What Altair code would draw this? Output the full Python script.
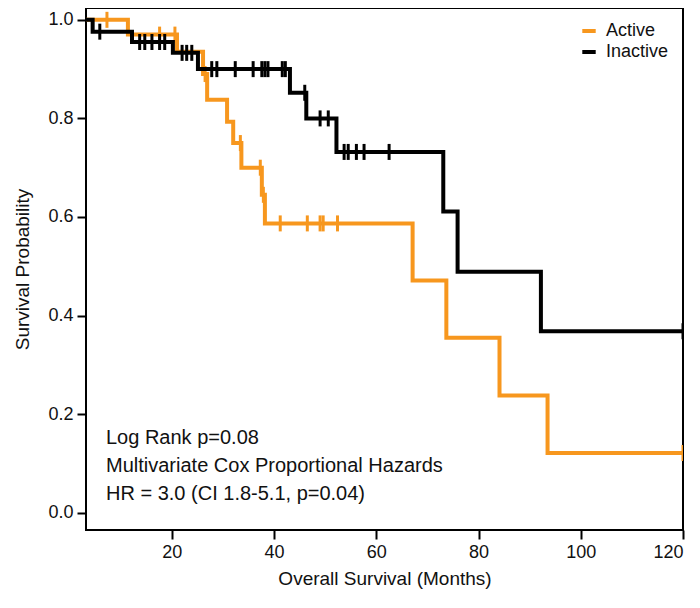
import altair as alt
import pandas as pd

# ---- data ----
groups = ["Active", "Inactive"]
colors = ["#F7971E", "#000000"]

active_t = [0, 11.4, 21.0, 26.1, 26.9, 30.8, 32.0, 33.6, 37.6, 38.2, 67.1, 73.7, 84.1, 93.5, 120]
active_s = [1.0, 0.97, 0.935, 0.89, 0.838, 0.793, 0.75, 0.70, 0.645, 0.587, 0.471, 0.355, 0.238, 0.121, 0.121]
active_cens = [7.3, 17.6, 20.6, 26.5, 33.4, 37.3, 37.9, 41.2, 46.5, 49.0, 49.6, 52.4, 120]

inactive_t = [0, 4.5, 12.2, 20.2, 25.1, 43.1, 46.3, 52.2, 73.1, 75.9, 92.2, 120]
inactive_s = [1.0, 0.976, 0.955, 0.933, 0.90, 0.852, 0.80, 0.732, 0.611, 0.489, 0.368, 0.368]
inactive_cens = [5.9, 13.7, 14.7, 16.1, 17.6, 18.6, 22.0, 22.9, 23.9, 27.8, 28.8, 32.4, 35.9,
                 37.6, 38.2, 38.8, 41.6, 42.2, 46.0, 49.0, 50.6, 53.7, 54.5, 56.1, 57.6, 62.5, 120]

x_ticks = [20, 40, 60, 80, 100, 120]
y_ticks = [0.0, 0.2, 0.4, 0.6, 0.8, 1.0]
notes = ["Log Rank p=0.08", "Multivariate Cox Proportional Hazards", "HR = 3.0 (CI 1.8-5.1, p=0.04)"]


def step_value(ts, ss, t):
    v = ss[0]
    for ti, si in zip(ts, ss):
        if ti <= t:
            v = si
    return v


curves = pd.DataFrame(
    [{"group": "Active", "t": t, "s": s} for t, s in zip(active_t, active_s)]
    + [{"group": "Inactive", "t": t, "s": s} for t, s in zip(inactive_t, inactive_s)]
)
cens = pd.DataFrame(
    [{"group": "Active", "t": t, "s": step_value(active_t, active_s, t)} for t in active_cens]
    + [{"group": "Inactive", "t": t, "s": step_value(inactive_t, inactive_s, t)} for t in inactive_cens]
)

FONT = "Liberation Sans"

xscale = alt.Scale(domain=[3.2, 120], nice=False, zero=False)
yscale = alt.Scale(domain=[-0.035, 1.024], nice=False, zero=False)
cscale = alt.Scale(domain=groups, range=colors)

xenc = alt.X("t:Q", scale=xscale, title="Overall Survival (Months)",
             axis=alt.Axis(values=x_ticks, format="d"))
yenc = alt.Y("s:Q", scale=yscale, title="Survival Probability",
             axis=alt.Axis(values=y_ticks, format=".1f"))
cenc = alt.Color("group:N", scale=cscale,
                 legend=alt.Legend(title=None, orient="top-right", symbolType="stroke",
                                   symbolStrokeWidth=4, symbolSize=180, labelFontSize=18,
                                   labelFont=FONT, labelColor="#111", offset=14,
                                   rowPadding=3, labelOffset=8, symbolOpacity=1))

layers = []
for g in groups:
    dline = curves[curves.group == g]
    dcens = cens[cens.group == g]
    layers.append(
        alt.Chart(dline).mark_line(interpolate="step-after", strokeWidth=4, clip=True)
        .encode(x=xenc, y=yenc, color=cenc)
    )
    layers.append(
        alt.Chart(dcens).mark_tick(orient="vertical", thickness=3, size=16, opacity=1, clip=True)
        .encode(x=xenc, y=yenc, color=cenc)
    )

notes_layer = alt.Chart(pd.DataFrame({"i": [0]})).mark_text(
    align="left", baseline="middle", fontSize=20, font=FONT, color="#111", lineHeight=28
).encode(x=alt.value(20), y=alt.value(430), text=alt.value(notes))

chart = alt.layer(*layers, notes_layer).properties(
    width=597, height=522,
    autosize=alt.AutoSizeParams(type="none"),
    padding={"left": 78, "top": 0, "right": 8, "bottom": 70},
).configure_view(
    stroke="#000", strokeWidth=2
).configure_axis(
    grid=False, domain=False, ticks=True, tickColor="#000", tickWidth=2, tickSize=9,
    labelFont=FONT, labelFontSize=18, labelColor="#111", labelPadding=4,
    titleFont=FONT, titleFontSize=19, titleFontWeight="normal", titleColor="#111",
).configure_axisY(titlePadding=15).configure_axisX(titlePadding=8)

chart.save("out.html", embed_options={"renderer": "svg", "actions": False})
